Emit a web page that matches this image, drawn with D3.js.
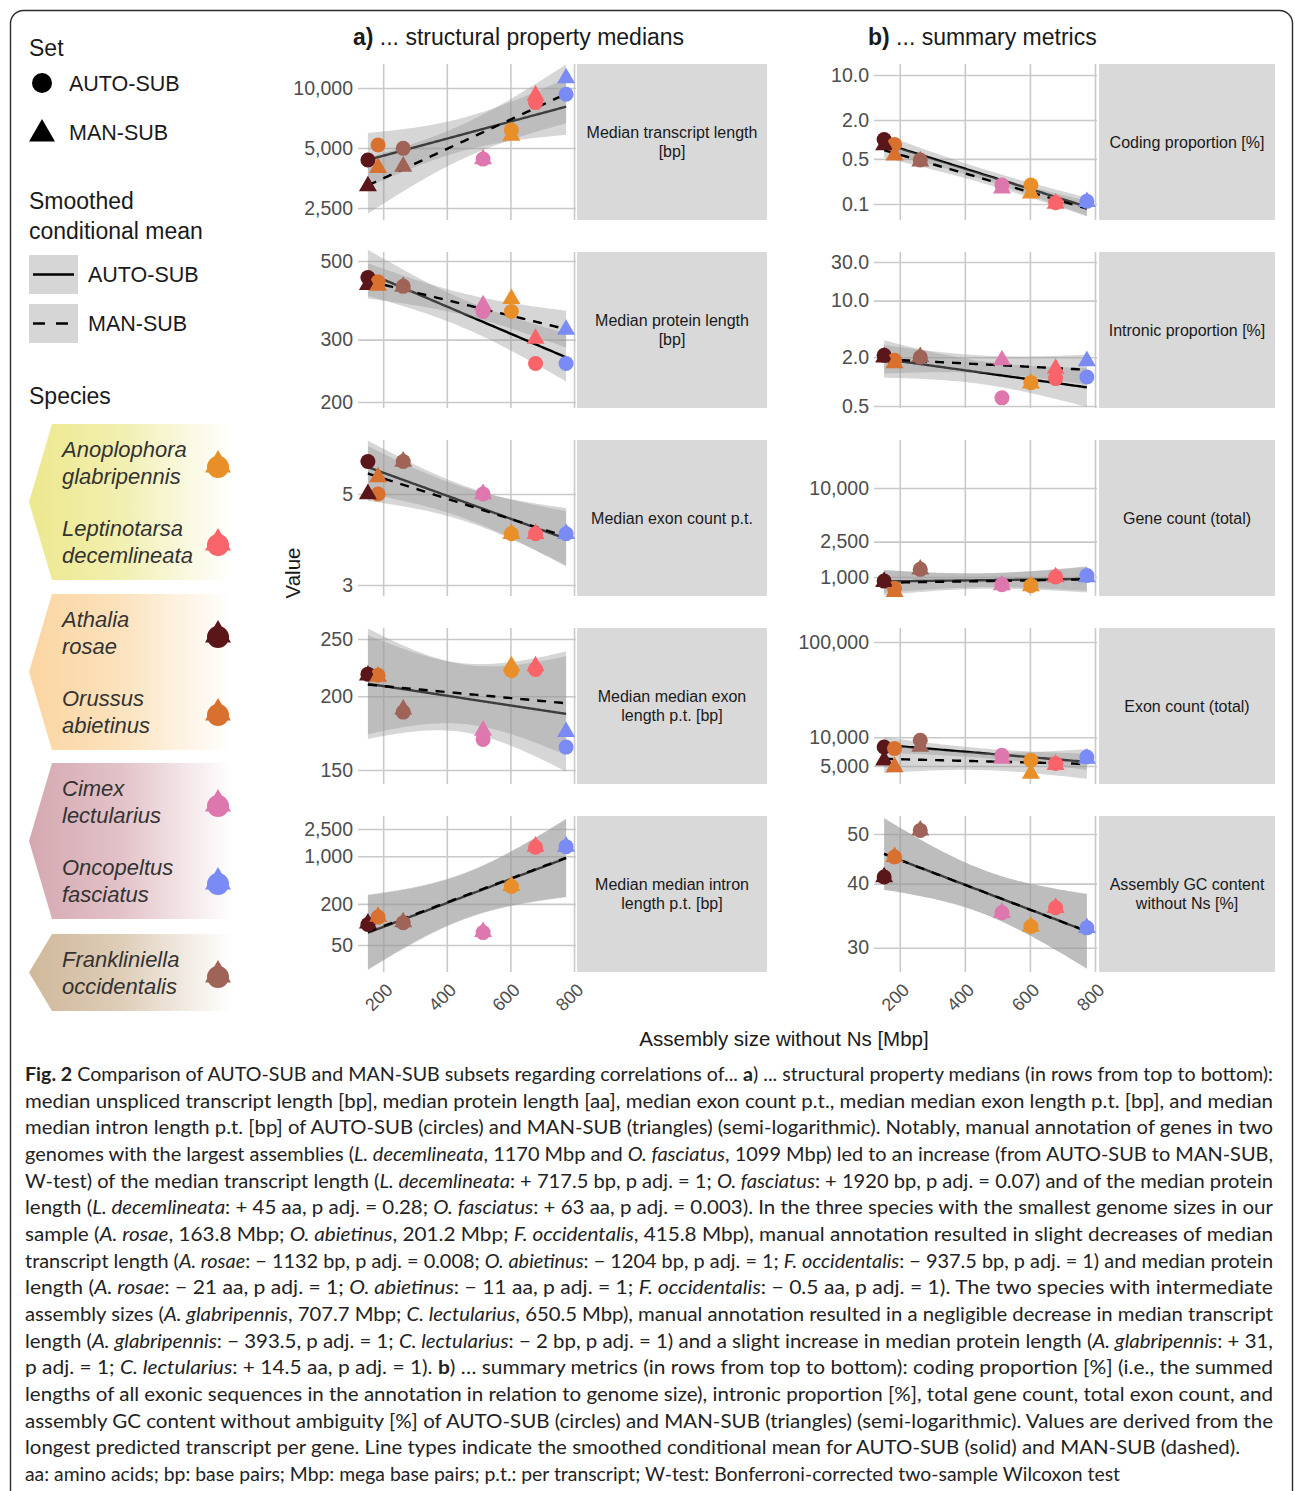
<!DOCTYPE html>
<html><head><meta charset="utf-8">
<script src="https://cdn.jsdelivr.net/npm/d3@7"></script>
<style>body{margin:0;background:#fff} svg{display:block}</style>
</head><body><svg id="c" width="1295" height="1491"></svg>
<script>
// ---------------- DATA ----------------
const species = ["Anoplophora glabripennis", "Leptinotarsa decemlineata", "Athalia rosae", "Orussus abietinus", "Cimex lectularius", "Oncopeltus fasciatus", "Frankliniella occidentalis"];
const speciesColors = ["#E88F2A", "#F9646A", "#5A1618", "#D8712F", "#DD77AE", "#7A8BF6", "#9F6357"];
const assemblySize = [603, 679, 152, 184, 514, 775, 263];   // Mbp (x axis)

const transcriptAuto = [6160, 8450, 4350, 5180, 4400, 9300, 4980];
const transcriptMan  = [5770, 9170, 3220, 3980, 4400, 11220, 4040];
const proteinAuto = [360, 257, 449, 437, 360, 257, 424];
const proteinMan  = [391, 302, 428, 426, 375, 320, 423.5];
const exonCountAuto = [4, 4, 6, 5, 5, 4, 6];
const exonCountMan  = [4, 4, 5, 5.5, 5, 4, 6];
const exonLenAuto = [221, 222, 218, 217, 169, 164, 188];
const exonLenMan  = [225, 225, 217, 216, 175, 174, 190];
const intronLenAuto = [360, 1350, 100, 128, 76, 1380, 106];
const intronLenMan  = [367, 1386, 104, 130, 78, 1386, 108];

const codingAuto = [0.197, 0.105, 1.0, 0.84, 0.197, 0.11, 0.48];
const codingMan  = [0.146, 0.102, 0.82, 0.57, 0.175, 0.108, 0.46];
const intronicAuto = [0.97, 1.09, 2.11, 1.84, 0.63, 1.14, 2.0];
const intronicMan  = [0.95, 1.45, 2.0, 1.70, 1.84, 1.80, 2.02];
const geneAuto = [800, 1000, 900, 746, 820, 1040, 1220];
const geneMan  = [792, 1000, 886, 684, 813, 1000, 1220];
const exonTotalAuto = [5740, 5300, 7910, 7610, 6470, 6210, 9300];
const exonTotalMan  = [4160, 5150, 5740, 4880, 5980, 6000, 8000];
const gcAuto = [33.0, 35.9, 41.2, 45.1, 35.1, 32.8, 50.8];
const gcMan  = [33.0, 35.9, 41.2, 45.1, 35.1, 32.8, 50.8];

const xTickValues = [200, 400, 600, 800];
const leftStrips = [["Median transcript length", "[bp]"], ["Median protein length", "[bp]"], ["Median exon count p.t."], ["Median median exon", "length p.t. [bp]"], ["Median median intron", "length p.t. [bp]"]];
const rightStrips = [["Coding proportion [%]"], ["Intronic proportion [%]"], ["Gene count (total)"], ["Exon count (total)"], ["Assembly GC content", "without Ns [%]"]];
const leftTicks = [[2500, 5000, 10000], [200, 300, 500], [3, 5], [150, 200, 250], [50, 200, 1000, 2500]];
const rightTicks = [[0.1, 0.5, 2, 10], [0.5, 2, 10, 30], [1000, 2500, 10000], [5000, 10000, 100000], [30, 40, 50]];
const leftDomains = [[2177, 13195], [192.4, 530], [2.82, 6.77], [142, 261], [20.1, 3878]];
const rightDomains = [[0.0565, 14.8], [0.472, 39.9], [612, 34630], [3235, 140200], [26.9, 54.2]];

const captionLines = [
"**Fig. 2** Comparison of AUTO-SUB and MAN-SUB subsets regarding correlations of... **a**) ... structural property medians (in rows from top to bottom):",
"median unspliced transcript length [bp], median protein length [aa], median exon count p.t., median median exon length p.t. [bp], and median",
"median intron length p.t. [bp] of AUTO-SUB (circles) and MAN-SUB (triangles) (semi-logarithmic). Notably, manual annotation of genes in two",
"genomes with the largest assemblies (*L. decemlineata*, 1170 Mbp and *O. fasciatus*, 1099 Mbp) led to an increase (from AUTO-SUB to MAN-SUB,",
"W-test) of the median transcript length (*L. decemlineata*: + 717.5 bp, p adj. = 1; *O. fasciatus*: + 1920 bp, p adj. = 0.07) and of the median protein",
"length (*L. decemlineata*: + 45 aa, p adj. = 0.28; *O. fasciatus*: + 63 aa, p adj. = 0.003). In the three species with the smallest genome sizes in our",
"sample (*A. rosae*, 163.8 Mbp; *O. abietinus*, 201.2 Mbp; *F. occidentalis*, 415.8 Mbp), manual annotation resulted in slight decreases of median",
"transcript length (*A. rosae*: \u2212 1132 bp, p adj. = 0.008; *O. abietinus*: \u2212 1204 bp, p adj. = 1; *F. occidentalis*: \u2212 937.5 bp, p adj. = 1) and median protein",
"length (*A. rosae*: \u2212 21 aa, p adj. = 1; *O. abietinus*: \u2212 11 aa, p adj. = 1; *F. occidentalis*: \u2212 0.5 aa, p adj. = 1). The two species with intermediate",
"assembly sizes (*A. glabripennis*, 707.7 Mbp; *C. lectularius*, 650.5 Mbp), manual annotation resulted in a negligible decrease in median transcript",
"length (*A. glabripennis*: \u2212 393.5, p adj. = 1; *C. lectularius*: \u2212 2 bp, p adj. = 1) and a slight increase in median protein length (*A. glabripennis*: + 31,",
"p adj. = 1; *C. lectularius*: + 14.5 aa, p adj. = 1). **b**) \u2026 summary metrics (in rows from top to bottom): coding proportion [%] (i.e., the summed",
"lengths of all exonic sequences in the annotation in relation to genome size), intronic proportion [%], total gene count, total exon count, and",
"assembly GC content without ambiguity [%] of AUTO-SUB (circles) and MAN-SUB (triangles) (semi-logarithmic). Values are derived from the",
"longest predicted transcript per gene. Line types indicate the smoothed conditional mean for AUTO-SUB (solid) and MAN-SUB (dashed).",
"aa: amino acids; bp: base pairs; Mbp: mega base pairs; p.t.: per transcript; W-test: Bonferroni-corrected two-sample Wilcoxon test"
];

const speciesGroups = [
  {color: "#ECE88E", members: [0, 1]},
  {color: "#FBD5A1", members: [2, 3]},
  {color: "#D5A8B0", members: [4, 5]},
  {color: "#D0B89A", members: [6]}
];

// ---------------- DRAWING ----------------
const FONT = "'Liberation Sans', Arial, Helvetica, sans-serif";
const svg = d3.select("#c").style("font-family", FONT);

svg.append("rect").attr("x", 10.5).attr("y", 10.5).attr("width", 1282).attr("height", 1520)
  .attr("rx", 13).attr("fill", "none").attr("stroke", "#2b2b2b").attr("stroke-width", 1.4);

const defs = svg.append("defs");

function lmBand(xs, vals) {
  const ys = vals.map(Math.log);
  const n = xs.length, xbar = d3.mean(xs), ybar = d3.mean(ys);
  let sxx = 0, sxy = 0;
  xs.forEach((x, i) => { sxx += (x - xbar) ** 2; sxy += (x - xbar) * (ys[i] - ybar); });
  const b = sxy / sxx, a = ybar - b * xbar;
  let sse = 0; xs.forEach((x, i) => { sse += (ys[i] - a - b * x) ** 2; });
  const s = Math.sqrt(sse / (n - 2)), t = 2.5706;
  const [mn, mx] = d3.extent(xs);
  return d3.range(0, 81).map(i => {
    const x = mn + (mx - mn) * i / 80, f = a + b * x;
    const se = s * Math.sqrt(1 / n + (x - xbar) ** 2 / sxx);
    return {x, fit: Math.exp(f), lo: Math.exp(f - t * se), hi: Math.exp(f + t * se)};
  });
}

const xExt = d3.extent(assemblySize), xPad = (xExt[1] - xExt[0]) * 0.05;
const xDomain = [xExt[0] - xPad, xExt[1] + xPad];

const leftAuto = [transcriptAuto, proteinAuto, exonCountAuto, exonLenAuto, intronLenAuto];
const leftMan = [transcriptMan, proteinMan, exonCountMan, exonLenMan, intronLenMan];
const rightAuto = [codingAuto, intronicAuto, geneAuto, exonTotalAuto, gcAuto];
const rightMan = [codingMan, intronicMan, geneMan, exonTotalMan, gcMan];
const rightFormats = [d3.format(".1f"), d3.format(".1f"), d3.format(","), d3.format(","), d3.format("d")];

function drawPanel(col, row, auto, man, domain, ticks, fmt, strip) {
  const x0 = col === 0 ? 358 : 874, x1 = col === 0 ? 576 : 1097;
  const s0 = col === 0 ? 577 : 1099, s1 = col === 0 ? 767 : 1275;
  const top = 64 + 188 * row, bot = top + 156;
  const x = d3.scaleLinear().domain(xDomain).range([x0, x1]);
  const y = d3.scaleLog().domain(domain).range([bot, top]);
  const g = svg.append("g");

  // vertical grid + (bottom row) tick labels
  const xa = g.append("g").attr("transform", `translate(0,${bot})`)
    .call(d3.axisBottom(x).tickValues(xTickValues).tickSize(-(bot - top)).tickPadding(0)
      .tickFormat(row === 4 ? d3.format("d") : () => ""));
  xa.select(".domain").remove();
  xa.selectAll("line").attr("stroke", "#c9c9c9").attr("stroke-width", 1.6);
  xa.selectAll("text").attr("fill", "#4d4d4d").attr("font-size", 18).attr("font-family", FONT)
    .attr("text-anchor", "end").attr("dy", null).attr("y", 0)
    .attr("transform", "translate(1,10) rotate(-45)").attr("dominant-baseline", "hanging");

  // horizontal grid + y tick labels
  const ya = g.append("g").attr("transform", `translate(${x0},0)`)
    .call(d3.axisLeft(y).tickValues(ticks).tickSize(-(x1 - x0)).tickPadding(5).tickFormat(fmt));
  ya.select(".domain").remove();
  ya.selectAll("line").attr("stroke", "#c9c9c9").attr("stroke-width", 1.6);
  ya.selectAll("text").attr("fill", "#4d4d4d").attr("font-size", 19.5).attr("font-family", FONT);

  // smooths
  const area = d3.area().x(d => x(d.x)).y0(d => y(d.lo)).y1(d => y(d.hi));
  const line = d3.line().x(d => x(d.x)).y(d => y(d.fit));
  const bA = lmBand(assemblySize, auto), bM = lmBand(assemblySize, man);
  g.append("path").attr("d", area(bA)).attr("fill", "#999999").attr("fill-opacity", 0.4);
  g.append("path").attr("d", line(bA)).attr("fill", "none").attr("stroke", "#000").attr("stroke-width", 2.4);
  g.append("path").attr("d", area(bM)).attr("fill", "#999999").attr("fill-opacity", 0.4);
  g.append("path").attr("d", line(bM)).attr("fill", "none").attr("stroke", "#000").attr("stroke-width", 2.4)
    .attr("stroke-dasharray", "9,8");

  // points
  const circ = d3.symbol(d3.symbolCircle, Math.PI * 7.5 * 7.5)();
  const tri = d3.symbol(d3.symbolTriangle, Math.sqrt(3) / 4 * 18 * 18)();
  auto.forEach((v, i) => g.append("path").attr("d", circ)
    .attr("transform", `translate(${x(assemblySize[i])},${y(v)})`).attr("fill", speciesColors[i]));
  man.forEach((v, i) => g.append("path").attr("d", tri)
    .attr("transform", `translate(${x(assemblySize[i])},${y(v)})`).attr("fill", speciesColors[i]));

  // strip
  g.append("rect").attr("x", s0).attr("y", top).attr("width", s1 - s0).attr("height", bot - top).attr("fill", "#d9d9d9");
  const cy = (top + bot) / 2, n = strip.length;
  strip.forEach((t, k) => g.append("text").attr("x", (s0 + s1) / 2).attr("y", cy + (k - (n - 1) / 2) * 19)
    .attr("text-anchor", "middle").attr("dominant-baseline", "central").attr("font-size", 16)
    .attr("fill", "#1a1a1a").text(t));
}

for (let r = 0; r < 5; r++) {
  drawPanel(0, r, leftAuto[r], leftMan[r], leftDomains[r], leftTicks[r], d3.format(","), leftStrips[r]);
  drawPanel(1, r, rightAuto[r], rightMan[r], rightDomains[r], rightTicks[r], rightFormats[r], rightStrips[r]);
}

// column titles
function title(xp, label, rest) {
  const t = svg.append("text").attr("x", xp).attr("y", 37).attr("dominant-baseline", "central")
    .attr("font-size", 23).attr("fill", "#1a1a1a");
  t.append("tspan").attr("font-weight", "bold").text(label);
  t.append("tspan").text(rest);
}
title(353, "a)", " ... structural property medians");
title(868, "b)", " ... summary metrics");

// axis titles
svg.append("text").attr("x", 784).attr("y", 1038).attr("text-anchor", "middle").attr("dominant-baseline", "central")
  .attr("font-size", 20.5).attr("fill", "#1a1a1a").text("Assembly size without Ns [Mbp]");
svg.append("text").attr("transform", "translate(292,573) rotate(-90)").attr("text-anchor", "middle")
  .attr("dominant-baseline", "central").attr("font-size", 20.5).attr("fill", "#1a1a1a").text("Value");

// ---------------- LEGEND ----------------
const lg = svg.append("g");
function ltext(xp, yp, s, size) {
  return lg.append("text").attr("x", xp).attr("y", yp).attr("dominant-baseline", "central")
    .attr("font-size", size).attr("fill", "#1a1a1a").text(s);
}
ltext(29, 48, "Set", 23);
lg.append("path").attr("d", d3.symbol(d3.symbolCircle, Math.PI * 100)()).attr("transform", "translate(42,83)");
lg.append("path").attr("d", d3.symbol(d3.symbolTriangle, Math.sqrt(3) / 4 * 26 * 26)()).attr("transform", "translate(42,134)");
ltext(69, 84, "AUTO-SUB", 21.5);
ltext(69, 133, "MAN-SUB", 21.5);
ltext(29, 201, "Smoothed", 23);
ltext(29, 231, "conditional mean", 23);
[["AUTO-SUB", null, 255], ["MAN-SUB", "12,11", 304]].forEach(([lab, dash, yy]) => {
  lg.append("rect").attr("x", 29).attr("y", yy).attr("width", 49).attr("height", 39).attr("fill", "#d6d6d6");
  lg.append("line").attr("x1", 33).attr("x2", 74).attr("y1", yy + 19.5).attr("y2", yy + 19.5)
    .attr("stroke", "#000").attr("stroke-width", 2.6).attr("stroke-dasharray", dash);
  ltext(88, yy + 19.5, lab, 21.5);
});
ltext(29, 396, "Species", 23);

const groupTops = [424, 594, 763, 934];
speciesGroups.forEach((grp, gi) => {
  const top = groupTops[gi], h = grp.members.length === 2 ? 156 : 77, bot = top + h;
  const id = "grad" + gi;
  const gr = defs.append("linearGradient").attr("id", id).attr("gradientUnits", "userSpaceOnUse")
    .attr("x1", 29).attr("x2", 232).attr("y1", 0).attr("y2", 0);
  const mix = d3.interpolateRgb(grp.color, "#ffffff");
  [[0, 0], [0.45, 0.3], [0.8, 0.75], [1, 1]].forEach(([o, m]) =>
    gr.append("stop").attr("offset", o).attr("stop-color", mix(m)));
  lg.append("path").attr("d", `M52,${top}L232,${top}L232,${bot}L52,${bot}L29,${(top + bot) / 2}Z`)
    .attr("fill", `url(#${id})`);
  grp.members.forEach((si, j) => {
    const words = species[si].split(" ");
    const ty = top + 25 + 79 * j;
    words.forEach((w, k) => lg.append("text").attr("x", 62).attr("y", ty + 27.5 * k)
      .attr("dominant-baseline", "central").attr("font-size", 22).attr("font-style", "italic")
      .attr("fill", "#333").text(w));
    const sy = top + 41 + 78 * j;
    lg.append("path").attr("d", d3.symbol(d3.symbolCircle, Math.PI * 11 * 11)())
      .attr("transform", `translate(218,${sy + 2})`).attr("fill", speciesColors[si]);
    lg.append("path").attr("d", d3.symbol(d3.symbolTriangle, Math.sqrt(3) / 4 * 26 * 26)())
      .attr("transform", `translate(218,${sy})`).attr("fill", speciesColors[si]);
  });
});

// ---------------- CAPTION ----------------
const cap = svg.append("g").attr("font-family", "Lato, 'Open Sans', sans-serif").attr("font-size", 19.5).attr("fill", "#222");
captionLines.forEach((ln, i) => {
  const t = cap.append("text").attr("x", 25).attr("y", 1081 + i * 26.67);
  const width = i < 14 ? 1248 : (i === 14 ? 1215 : 1095);
  t.attr("textLength", width).attr("lengthAdjust", "spacingAndGlyphs");
  ln.split(/(\*\*[^*]+\*\*|\*[^*]+\*)/).filter(s => s.length).forEach(seg => {
    const ts = t.append("tspan");
    if (seg.startsWith("**")) ts.attr("font-weight", "bold").text(seg.slice(2, -2));
    else if (seg.startsWith("*")) ts.attr("font-style", "italic").text(seg.slice(1, -1));
    else ts.text(seg);
  });
});
</script></body></html>
